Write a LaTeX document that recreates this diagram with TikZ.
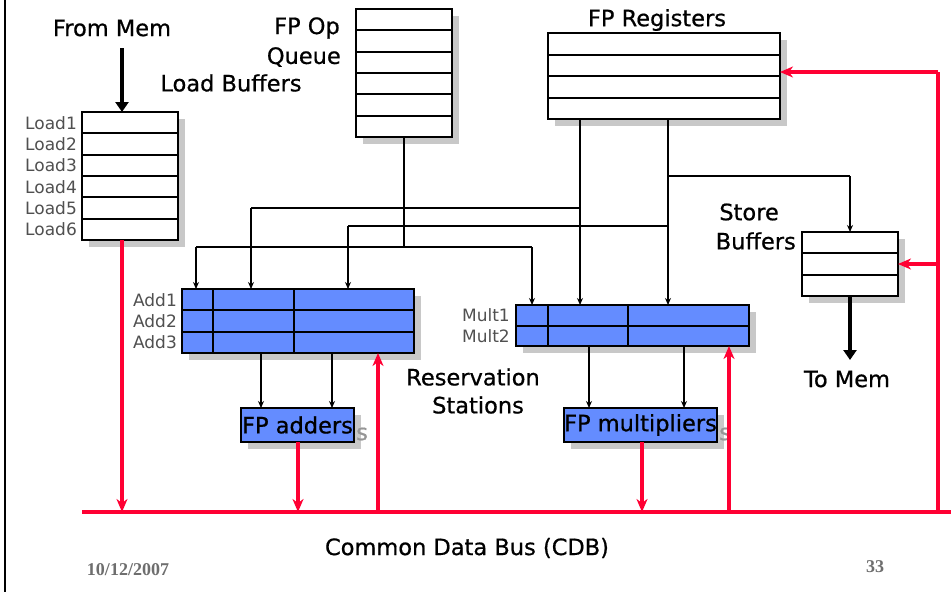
\documentclass[tikz,border=0pt]{standalone}
\usepackage{fontspec}
\setmainfont{DejaVu Sans}
\newfontfamily\comicfont{DejaVu Sans}[FakeBold=0.7]
\newfontfamily\footfont{Liberation Serif}
\usetikzlibrary{calc,arrows.meta,shadows}
\definecolor{rsblue}{RGB}{100,140,255}
\definecolor{busred}{RGB}{255,0,51}
\definecolor{shadowgray}{RGB}{200,200,200}
\definecolor{ghostgray}{RGB}{150,150,150}
\definecolor{labelgray}{RGB}{80,80,80}
\definecolor{footgray}{RGB}{110,110,110}
\newcommand{\hrows}[2]{%
  \pgfmathtruncatemacro\nmrows{#2-1}%
  \foreach \i in {1,...,\nmrows}{%
    \draw[rowline] ($(#1.north west)!\i/#2!(#1.south west)$) -- ($(#1.north east)!\i/#2!(#1.south east)$);}}
\begin{document}
\begin{tikzpicture}[x=1pt,y=-1pt,
  box/.style={draw=black,line width=2pt,anchor=north west,inner sep=0pt,outer sep=0pt,fill=white,
    drop shadow={shadow xshift=7pt,shadow yshift=-7pt,fill=shadowgray,opacity=1}},
  rsbox/.style={box,fill=rsblue},
  rowline/.style={draw=black,line width=2pt},
  wire/.style={draw=black,line width=1.4pt},
  wirearrow/.style={wire,-{Stealth[length=7pt,width=6pt]}},
  bigarrow/.style={draw=black,line width=3.5pt,-{Triangle[length=10pt,width=13pt]}},
  redline/.style={draw=busred,line width=3.5pt},
  redarrow/.style={redline,-{Stealth[length=13pt,width=11pt,inset=4pt]}},
  title/.style={font=\comicfont\fontsize{22.5}{26}\selectfont,inner sep=0pt},
  lbl/.style={font=\fontsize{17}{19}\selectfont,text=labelgray,anchor=east,inner sep=0pt},
  foot/.style={font=\footfont\bfseries\fontsize{18}{20}\selectfont,text=footgray,inner sep=0pt}]
\useasboundingbox (0,0) rectangle (951,592);
\fill[white] (0,0) rectangle (951,592);
% left border
\coordinate (bt) at (5,0);
\coordinate (bb) at (5,592);
\draw[line width=2pt] (bt) -- (bb);

% boxes
\node[box,minimum width=96pt,minimum height=128pt] (load) at (82,112) {};
\hrows{load}{6}
\node[box,minimum width=96pt,minimum height=128pt] (queue) at (356,9) {};
\hrows{queue}{6}
\node[box,minimum width=232pt,minimum height=86pt] (regs) at (548,33) {};
\hrows{regs}{4}
\node[box,minimum width=96pt,minimum height=64pt] (store) at (802,232) {};
\hrows{store}{3}
\node[rsbox,minimum width=232pt,minimum height=64pt] (addrs) at (182,289) {};
\hrows{addrs}{3}
\node[rsbox,minimum width=233pt,minimum height=41pt] (multrs) at (516,305) {};
\hrows{multrs}{2}
\coordinate (ac1) at (213,0);
\coordinate (ac2) at (294,0);
\coordinate (mc1) at (548,0);
\coordinate (mc2) at (628,0);
\draw[rowline] (addrs.north -| ac1) -- (addrs.south -| ac1);
\draw[rowline] (addrs.north -| ac2) -- (addrs.south -| ac2);
\draw[rowline] (multrs.north -| mc1) -- (multrs.south -| mc1);
\draw[rowline] (multrs.north -| mc2) -- (multrs.south -| mc2);

% functional units
\node[rsbox,minimum width=113pt,minimum height=34pt] (fpadd) at (241,408) {};
\node[rsbox,minimum width=153pt,minimum height=34pt] (fpmul) at (564,408) {};
% grey ghost letters peeking out behind the functional units
\node[title,text=ghostgray,anchor=west] (fpaddsh) at (356,434) {s};
\node[title,text=ghostgray,anchor=west] (fpmulsh) at (719,434) {s};
\node[title] (fpaddt) at (fpadd.center) {FP adders};
\node[title] (fpmult) at (fpmul.center) {FP multipliers};

% labels
\foreach \i in {1,...,6}{
  \node[lbl] (ll\i) at ($(load.north west)!{(\i-0.5)/6}!(load.south west)+(-5,0)$) {Load\i};}
\foreach \i in {1,...,3}{
  \node[lbl] (al\i) at ($(addrs.north west)!{(\i-0.5)/3}!(addrs.south west)+(-5,0)$) {Add\i};}
\foreach \i in {1,...,2}{
  \node[lbl] (ml\i) at ($(multrs.north west)!{(\i-0.5)/2}!(multrs.south west)+(-6,0)$) {Mult\i};}

% texts
\node[title] (frommem) at (112,28) {From Mem};
\node[title,anchor=east] (fpop) at (340,28) {FP Op};
\node[title,anchor=east] (queuet) at (341,57) {Queue};
\node[title] (loadbuf) at (231,83) {Load Buffers};
\node[title] (fpregs) at (657,20) {FP Registers};
\node[title,anchor=east] (storet) at (779,212) {Store};
\node[title,anchor=east] (buffers) at (796,241) {Buffers};
\node[title] (tomem) at (847,379) {To Mem};
\node[title] (reserv) at (473,377) {Reservation};
\node[title] (stations) at (478,405) {Stations};
\node[title] (cdb) at (467,548) {Common Data Bus (CDB)};
\node[foot] (date) at (128,570) {10/12/2007};
\node[foot] (page) at (875,567) {33};

% black connectors
\coordinate (fm) at (122,48);
\draw[bigarrow] (fm) -- (fm |- load.north);
\coordinate (tm) at (850,360);
\draw[bigarrow] (store.south) -- (tm);

\coordinate (q1) at (404,247);
\coordinate (a1) at (196,247);
\coordinate (m1) at (532,247);
\draw[wire] (queue.south) -- (q1);
\draw[wire] (a1) -- (m1);
\draw[wirearrow] (a1) -- (a1 |- addrs.north);
\draw[wirearrow] (m1) -- (m1 |- multrs.north);

\coordinate (r1) at (580,0);
\coordinate (r2) at (668,0);
\coordinate (h1) at (580,208);
\coordinate (a2) at (251,208);
\coordinate (h2) at (668,226);
\coordinate (a3) at (348,226);
\coordinate (h3) at (668,176);
\coordinate (s1) at (850,176);
\draw[wirearrow] (regs.south -| r1) -- (multrs.north -| r1);
\draw[wirearrow] (regs.south -| r2) -- (multrs.north -| r2);
\draw[wire] (h1) -- (a2);
\draw[wirearrow] (a2) -- (a2 |- addrs.north);
\draw[wire] (h2) -- (a3);
\draw[wirearrow] (a3) -- (a3 |- addrs.north);
\draw[wire] (h3) -- (s1);
\draw[wirearrow] (s1) -- (s1 |- store.north);

\coordinate (f1) at (261,0);
\coordinate (f2) at (332,0);
\coordinate (g1) at (589,0);
\coordinate (g2) at (684,0);
\draw[wirearrow] (addrs.south -| f1) -- (fpadd.north -| f1);
\draw[wirearrow] (addrs.south -| f2) -- (fpadd.north -| f2);
\draw[wirearrow] (multrs.south -| g1) -- (fpmul.north -| g1);
\draw[wirearrow] (multrs.south -| g2) -- (fpmul.north -| g2);

% red common data bus
\coordinate (busl) at (82,512);
\coordinate (busr) at (951,512);
\coordinate (bL) at (122,512);
\coordinate (bA) at (298,512);
\coordinate (bB) at (378,512);
\coordinate (bM) at (642,512);
\coordinate (bN) at (729,512);
\coordinate (bR) at (938,512);
\coordinate (rTop) at (938,72);
\coordinate (rSt) at (938,264);
\draw[redline] (busl) -- (busr);
\draw[redarrow] (load.south -| bL) -- (bL);
\draw[redarrow] (fpadd.south -| bA) -- (bA);
\draw[redarrow] (fpmul.south -| bM) -- (bM);
\draw[redarrow] (bB) -- (addrs.south -| bB);
\draw[redarrow] (bN) -- (multrs.south -| bN);
\draw[redline] (bR) -- (rTop);
\draw[redarrow] (rTop) -- (rTop -| regs.east);
\draw[redarrow] (rSt) -- (rSt -| store.east);
\end{tikzpicture}
\end{document}
